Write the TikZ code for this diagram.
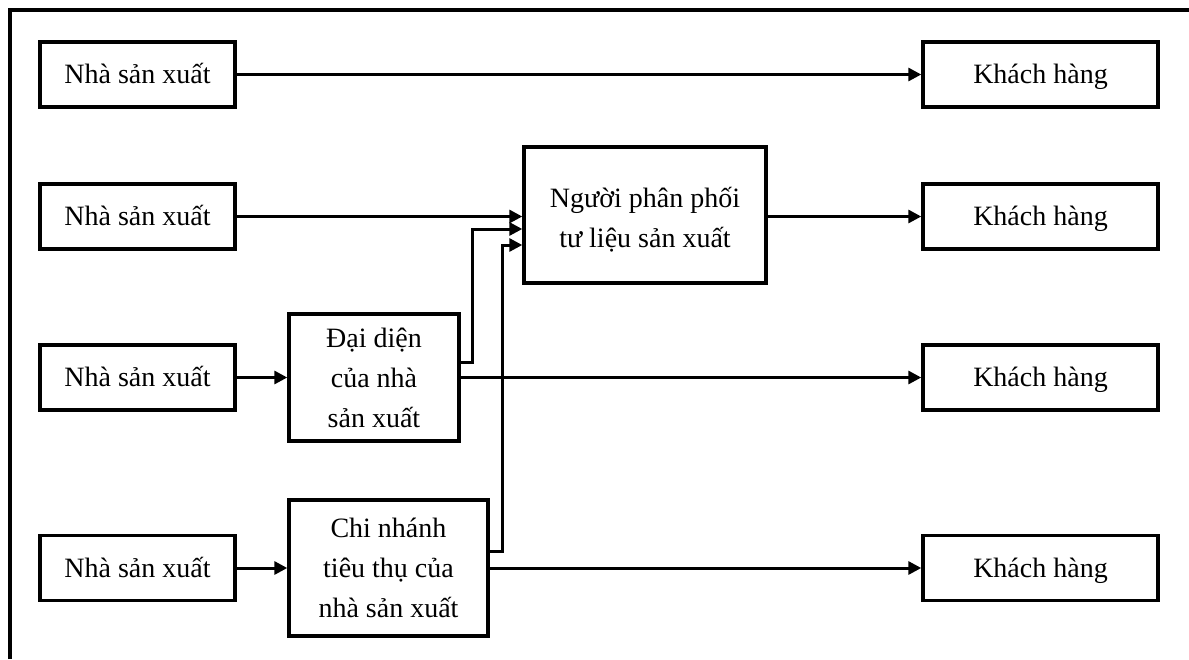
\documentclass[tikz,border=0pt]{standalone}
\usepackage{fontspec}
\setmainfont{Liberation Serif}
\usetikzlibrary{arrows.meta}
\begin{document}
\begin{tikzpicture}[x=0.5pt,y=-0.5pt,
  box/.style={draw,line width=1.7pt,rectangle,inner sep=0pt,align=center,
    font=\fontsize{14}{20}\selectfont},
  single/.style={box,text height=10pt,text depth=1pt,minimum height=32.5pt},
  link/.style={line width=1.5pt},
  flow/.style={link,-{Triangle[length=6.5pt,width=6.5pt]}}]
\useasboundingbox (0,0) rectangle (1189,659);
% outer frame (left and top edges)
\draw[line width=1.6pt] (10,659) -- (10,10) -- (1189,10);

% producers
\node[single,minimum width=97.5pt] (nsx1) at (137.5,74.5) {Nhà sản xuất};
\node[single,minimum width=97.5pt] (nsx2) at (137.5,216.5) {Nhà sản xuất};
\node[single,minimum width=97.5pt] (nsx3) at (137.5,377.5) {Nhà sản xuất};
\node[single,minimum width=97.5pt] (nsx4) at (137.5,568) {Nhà sản xuất};

% customers
\node[single,minimum width=117.5pt] (kh1) at (1040.5,74.5) {Khách hàng};
\node[single,minimum width=117.5pt] (kh2) at (1040.5,216.5) {Khách hàng};
\node[single,minimum width=117.5pt] (kh3) at (1040.5,377.5) {Khách hàng};
\node[single,minimum width=117.5pt] (kh4) at (1040.5,568) {Khách hàng};

% intermediaries
\node[box,minimum width=121pt,minimum height=68pt] (npp) at (645,215) {\rule{0pt}{15pt}Người phân phối\\tư liệu sản xuất};
\node[box,minimum width=85pt,minimum height=63.5pt] (dd) at (374,377.5) {Đại diện\\của nhà\\sản xuất};
\node[box,minimum width=99.5pt,minimum height=68pt] (cn) at (388.5,568) {Chi nhánh\\tiêu thụ của\\nhà sản xuất};

% auxiliary levels of the feeder lines
\coordinate (ddy) at (0,362);
\coordinate (ddx) at (472,229);
\coordinate (cny) at (0,551);
\coordinate (cnx) at (502,245);

% direct channels
\draw[flow] (nsx1.east) -- (kh1.west);
\draw[flow] (nsx2.east) -- (nsx2.east -| npp.west);
\draw[flow] (npp.east |- kh2.west) -- (kh2.west);
\draw[flow] (nsx3.east) -- (dd.west);
\draw[flow] (nsx4.east) -- (cn.west);
\draw[flow] (dd.east) -- (kh3.west);
\draw[flow] (cn.east) -- (kh4.west);

% feeders into the distributor
\draw[flow] (dd.east |- ddy) -| (ddx) -- (ddx -| npp.west);
\draw[flow] (cn.east |- cny) -| (cnx) -- (cnx -| npp.west);
\end{tikzpicture}
\end{document}
